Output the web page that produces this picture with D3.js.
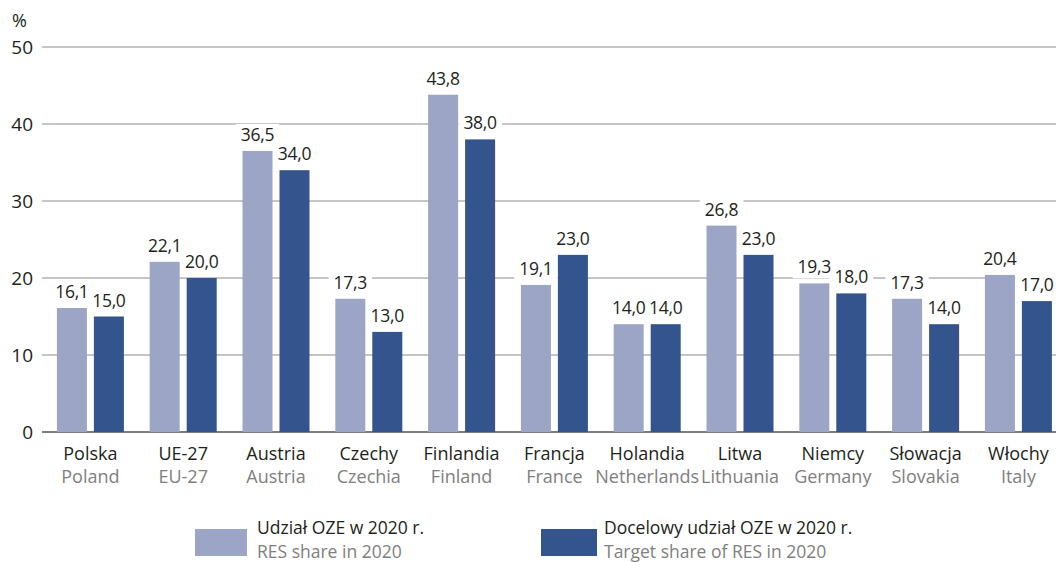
<!DOCTYPE html>
<html>
<head>
<meta charset="utf-8">
<script src="https://cdn.jsdelivr.net/npm/d3@7"></script>
<style>
  body { margin: 0; background: #fff; }
  svg text { font-family: "Open Sans", "Noto Sans", sans-serif; }
</style>
</head>
<body>
<div id="chart"></div>
<script>
// categories (polish / english)
var categoriesPl = ["Polska", "UE-27", "Austria", "Czechy", "Finlandia", "Francja", "Holandia", "Litwa", "Niemcy", "Słowacja", "Włochy"];
var categoriesEn = ["Poland", "EU-27", "Austria", "Czechia", "Finland", "France", "Netherlands", "Lithuania", "Germany", "Slovakia", "Italy"];

// series
var shareValues  = [16.1, 22.1, 36.5, 17.3, 43.8, 19.1, 14.0, 26.8, 19.3, 17.3, 20.4];
var targetValues = [15.0, 20.0, 34.0, 13.0, 38.0, 23.0, 14.0, 23.0, 18.0, 14.0, 17.0];

var seriesNamesPl = ["Udział OZE w 2020 r.", "Docelowy udział OZE w 2020 r."];
var seriesNamesEn = ["RES share in 2020", "Target share of RES in 2020"];
var yTicks = [0, 10, 20, 30, 40, 50];

var colors = ["#9ca5c6", "#33548d"];

var width = 1056, height = 562;

var svg = d3.select("#chart").append("svg")
	.attr("width", width)
	.attr("height", height);

var y = d3.scaleLinear().domain([0, 50]).range([432, 47]);

var x = d3.scaleBand()
	.domain(categoriesPl)
	.range([44, 44 + 11 * 92.8])
	.padding(0);

// the two bars inside a group: 30px wide with a 7px gap
var pairW = 67;
var x1 = d3.scaleBand()
	.domain([0, 1])
	.range([(x.bandwidth() - pairW) / 2, (x.bandwidth() + pairW) / 2])
	.paddingInner(7 / 37);

// grid lines
svg.append("g").selectAll("line")
	.data(yTicks)
	.enter().append("line")
	.attr("x1", 42).attr("x2", width)
	.attr("y1", function(d) { return y(d); })
	.attr("y2", function(d) { return y(d); })
	.attr("stroke", function(d) { return d === 0 ? "#7f7f7f" : "#8c8c8c"; })
	.attr("stroke-width", function(d) { return d === 0 ? 2 : 1; });

// y axis labels
svg.append("g").selectAll("text")
	.data(yTicks)
	.enter().append("text")
	.attr("x", 33)
	.attr("y", function(d) { return y(d); })
	.attr("dy", "0.36em")
	.attr("text-anchor", "end")
	.attr("font-size", 19)
	.attr("fill", "#231f20")
	.text(function(d) { return d; });

svg.append("text")
	.attr("x", 12).attr("y", 27)
	.attr("font-size", 18)
	.attr("fill", "#231f20")
	.text("%");

var rows = categoriesPl.map(function(c, i) {
	return { cat: c, vals: [shareValues[i], targetValues[i]] };
});
var pairs = function(d) { return d.vals.map(function(v, k) { return { k: k, v: v }; }); };
var fmt = function(v) { return v.toFixed(1).replace(".", ","); };

// layers: white backings under the bars, labels on top
var backLayer = svg.append("g");
var barLayer = svg.append("g");
var textLayer = svg.append("g");

var groups = barLayer.selectAll("g")
	.data(rows)
	.enter().append("g")
	.attr("transform", function(d) { return "translate(" + x(d.cat) + ",0)"; });

groups.selectAll("rect")
	.data(pairs)
	.enter().append("rect")
	.attr("x", function(d) { return x1(d.k); })
	.attr("width", x1.bandwidth())
	.attr("y", function(d) { return y(d.v); })
	.attr("height", function(d) { return y(0) - y(d.v); })
	.attr("fill", function(d) { return colors[d.k]; });

var tGroups = textLayer.selectAll("g")
	.data(rows)
	.enter().append("g")
	.attr("transform", function(d) { return "translate(" + x(d.cat) + ",0)"; });

tGroups.selectAll("text")
	.data(pairs)
	.enter().append("text")
	.attr("x", function(d) { return x1(d.k) + x1.bandwidth() / 2; })
	.attr("y", function(d) { return y(d.v) - 10; })
	.attr("text-anchor", "middle")
	.attr("font-size", 17.5)
	.attr("letter-spacing", -0.3)
	.attr("fill", "#231f20")
	.text(function(d) { return fmt(d.v); })
	.each(function(d) {
		// white box behind the label so it breaks the grid line
		var bb = this.getBBox();
		var tx = x(d3.select(this.parentNode).datum().cat);
		backLayer.append("rect")
			.attr("x", tx + bb.x - 5).attr("y", bb.y + 2)
			.attr("width", bb.width + 10).attr("height", bb.height - 2)
			.attr("fill", "#fff");
	});

// category labels
var catG = svg.append("g");
catG.selectAll("text.pl")
	.data(categoriesPl)
	.enter().append("text")
	.attr("x", function(d) { return x(d) + x.bandwidth() / 2; })
	.attr("y", 460)
	.attr("text-anchor", "middle")
	.attr("font-size", 18)
	.attr("fill", "#231f20")
	.text(function(d) { return d; });

catG.selectAll("text.en")
	.data(categoriesEn)
	.enter().append("text")
	.attr("x", function(d, i) { return x(categoriesPl[i]) + x.bandwidth() / 2; })
	.attr("y", 483)
	.attr("text-anchor", "middle")
	.attr("font-size", 18)
	.attr("fill", "#808080")
	.text(function(d) { return d; });

// legend
var legX = [195, 541];
var leg = svg.append("g").selectAll("g")
	.data([0, 1])
	.enter().append("g")
	.attr("transform", function(k) { return "translate(" + legX[k] + ",0)"; });

leg.append("rect")
	.attr("x", 0).attr("y", 529)
	.attr("width", function(k) { return k === 0 ? 52 : 56; })
	.attr("height", 27)
	.attr("fill", function(k) { return colors[k]; });

leg.append("text")
	.attr("x", function(k) { return k === 0 ? 62 : 63; })
	.attr("y", 534)
	.attr("font-size", 17.5)
	.attr("fill", "#231f20")
	.text(function(k) { return seriesNamesPl[k]; });

leg.append("text")
	.attr("x", function(k) { return k === 0 ? 62 : 63; })
	.attr("y", 558)
	.attr("font-size", 17.5)
	.attr("fill", "#808080")
	.text(function(k) { return seriesNamesEn[k]; });
</script>
</body>
</html>
